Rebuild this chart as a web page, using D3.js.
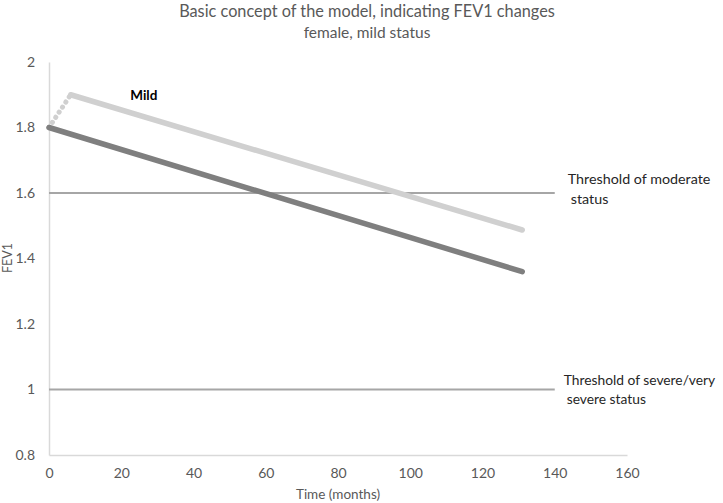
<!DOCTYPE html>
<html>
<head>
<meta charset="utf-8">
<script src="https://cdn.jsdelivr.net/npm/d3@7"></script>
<style>
  body { margin: 0; background: #fff; }
  text { font-family: Lato, "Open Sans", sans-serif; }
</style>
</head>
<body>
<div id="chart-area"></div>
<script>
// Data
var xTicks = [0, 20, 40, 60, 80, 100, 120, 140, 160];
var yTicks = [0.8, 1, 1.2, 1.4, 1.6, 1.8, 2];
var baseLine = [{t: 0, v: 1.8}, {t: 131, v: 1.36}];          // dark line
var mildRise = [{t: 0, v: 1.8}, {t: 6, v: 1.9}];             // dotted jump
var mildLine = [{t: 6, v: 1.9}, {t: 131, v: 1.487}];         // light line
var thresholds = [
    {v: 1.6, end: 140, label: ["Threshold of moderate", "status"]},
    {v: 1.0, end: 140, label: ["Threshold of severe/very", "severe status"]}
];

var margin = { left: 49, right: 96, top: 62, bottom: 48 },
    width = 723 - margin.left - margin.right,
    height = 503 - margin.top - margin.bottom;

var svg = d3.select("#chart-area")
    .append("svg")
    .attr("width", 723)
    .attr("height", 503);
var g = svg.append("g")
    .attr("transform", "translate(" + margin.left + "," + margin.top + ")");

// Scales
var x = d3.scaleLinear().domain([0, 160]).range([0, width]);
var y = d3.scaleLinear().domain([0.8, 2]).range([height, 0]);

// Axes
var xAxis = g.append("g")
    .attr("transform", "translate(0," + height + ")")
    .call(d3.axisBottom(x).tickValues(xTicks).tickSize(0).tickPadding(13));
var yAxis = g.append("g")
    .call(d3.axisLeft(y).tickValues(yTicks).tickSize(0).tickPadding(14)
        .tickFormat(function(d){ return d3.format("")(+d.toFixed(1)); }));
[xAxis, yAxis].forEach(function(a){
    a.select(".domain").attr("stroke", "#d9d9d9").attr("stroke-width", 1.5);
    a.selectAll("text").attr("fill", "#595959").attr("font-size", "14px")
        .style("font-family", "Lato, 'Open Sans', sans-serif");
});

// Titles
svg.append("text")
    .attr("x", 367).attr("y", 17)
    .attr("text-anchor", "middle")
    .attr("font-size", "16.3px").attr("fill", "#595959")
    .text("Basic concept of the model, indicating FEV1 changes");
svg.append("text")
    .attr("x", 367).attr("y", 38)
    .attr("text-anchor", "middle")
    .attr("font-size", "15.5px").attr("fill", "#595959")
    .text("female, mild status");

// Axis labels
g.append("text")
    .attr("x", width / 2).attr("y", height + 44)
    .attr("text-anchor", "middle")
    .attr("font-size", "13.5px").attr("fill", "#595959")
    .text("Time (months)");
g.append("text")
    .attr("transform", "rotate(-90)")
    .attr("x", -(258 - margin.top)).attr("y", -37)
    .attr("text-anchor", "middle")
    .attr("font-size", "12.5px").attr("fill", "#595959")
    .text("FEV1");

// Threshold lines + their labels
thresholds.forEach(function(th, k){
    g.append("line")
        .attr("x1", x(0)).attr("x2", x(th.end))
        .attr("y1", y(th.v)).attr("y2", y(th.v))
        .attr("stroke", "#a6a6a6").attr("stroke-width", 2);
    var lx = x(th.end) + (k ? 9 : 13);
    var lab = g.append("text")
        .attr("x", lx).attr("y", y(th.v) - (k ? 5 : 9))
        .attr("font-size", k ? "13.8px" : "14.3px").attr("fill", "#262626");
    th.label.forEach(function(s, i){
        lab.append("tspan").attr("x", lx + (i ? 3 : 0)).attr("dy", i ? 19.5 : 0).text(s);
    });
});

var line = d3.line()
    .x(function(d){ return x(d.t); })
    .y(function(d){ return y(d.v); });

// Series
g.append("path")
    .attr("d", line(mildRise))
    .attr("fill", "none").attr("stroke", "#d0d0d0")
    .attr("stroke-width", 5).attr("stroke-linecap", "round")
    .attr("stroke-dasharray", "0.1 6");
g.append("path")
    .attr("d", line(mildLine))
    .attr("fill", "none").attr("stroke", "#d0d0d0")
    .attr("stroke-width", 5.5).attr("stroke-linecap", "round");
g.append("path")
    .attr("d", line(baseLine))
    .attr("fill", "none").attr("stroke", "#7f7f7f")
    .attr("stroke-width", 5.5).attr("stroke-linecap", "round");

// Series label
g.append("text")
    .attr("x", x(22.5)).attr("y", y(1.9) + 5)
    .attr("font-size", "13.5px").attr("font-weight", "bold").attr("fill", "#000")
    .text("Mild");
</script>
</body>
</html>
